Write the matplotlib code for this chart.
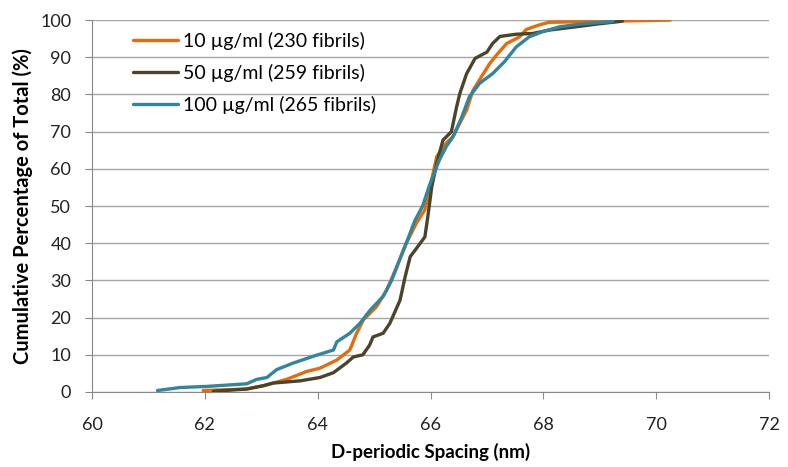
import matplotlib
matplotlib.use('Agg')
import matplotlib.pyplot as plt

# cumulative distributions (x in nm, y in %)
x_10 = [61.97, 62.74, 63.04, 63.45, 63.8, 64.04, 64.34, 64.57, 64.69, 64.81, 65.04, 65.22,
        65.4, 65.57, 65.75, 65.9, 66.02, 66.11, 66.28, 66.4, 66.52, 66.64, 66.75, 66.9,
        67.05, 67.17, 67.35, 67.58, 67.7, 67.93, 68.1, 70.25]
y_10 = [0.4, 0.8, 1.7, 3.4, 5.5, 6.4, 8.6, 11.3, 15.8, 19.4, 22.9, 27.3,
        33.6, 40.0, 45.4, 49.0, 57.0, 63.3, 67.0, 68.7, 72.3, 75.8, 81.0, 84.7,
        88.3, 90.6, 93.7, 95.5, 97.5, 98.7, 99.4, 100.0]

x_50 = [62.15, 62.74, 63.04, 63.21, 63.69, 64.04, 64.28, 64.51, 64.63, 64.8, 64.92, 64.98,
        65.16, 65.28, 65.46, 65.55, 65.64, 65.75, 65.9, 65.96, 66.02, 66.11, 66.22, 66.37,
        66.46, 66.52, 66.64, 66.79, 67.0, 67.1, 67.23, 67.52, 67.81, 68.1, 68.58, 68.99, 69.4]
y_50 = [0.2, 0.8, 1.7, 2.4, 3.0, 3.9, 5.2, 7.8, 9.4, 10.0, 12.6, 14.8,
        15.8, 18.5, 24.7, 31.0, 36.4, 38.6, 41.7, 48.0, 55.0, 61.5, 67.7, 70.0,
        76.5, 80.3, 85.6, 89.7, 91.4, 93.7, 95.6, 96.2, 96.4, 97.3, 98.2, 99.0, 99.7]

x_100 = [61.16, 61.56, 62.03, 62.74, 62.92, 63.1, 63.27, 63.57, 63.92, 64.28, 64.34, 64.57,
         64.75, 64.93, 65.16, 65.31, 65.45, 65.57, 65.72, 65.86, 65.98, 66.07, 66.16, 66.28,
         66.4, 66.54, 66.69, 66.87, 67.1, 67.31, 67.52, 67.75, 67.99, 68.29, 68.7, 69.23]
y_100 = [0.4, 1.2, 1.5, 2.2, 3.4, 3.9, 6.0, 7.8, 9.6, 11.3, 13.5, 15.8,
         18.5, 22.0, 25.7, 30.0, 35.5, 40.0, 46.0, 50.0, 55.5, 59.0, 62.5, 66.0,
         68.7, 73.4, 79.4, 83.0, 85.6, 88.8, 92.8, 95.5, 96.9, 98.2, 99.0, 99.6]

labels = ['10 \u00b5g/ml (230 fibrils)', '50 \u00b5g/ml (259 fibrils)', '100 \u00b5g/ml (265 fibrils)']
colors = ['#E46C0A', '#4A452A', '#31859C']

plt.rcParams['font.family'] = ['Lato', 'DejaVu Sans']

fig = plt.figure(figsize=(7.88, 4.67), dpi=100)
ax = fig.add_axes([0.1168, 0.1606, 0.8591, 0.7964])

for xs, ys, lab, c in zip([x_10, x_50, x_100], [y_10, y_50, y_100], labels, colors):
    ax.plot(xs, ys, color=c, lw=2.4, label=lab, solid_capstyle='round', zorder=3)

ax.set_xlim(60, 72)
ax.set_ylim(0, 100)
ax.set_xticks(range(60, 73, 2))
ax.set_yticks(range(0, 101, 10))
ax.yaxis.grid(True, color='#A6A6A6', lw=1)
ax.set_axisbelow(True)

for s in ['top', 'right']:
    ax.spines[s].set_visible(False)
for s in ['left', 'bottom']:
    ax.spines[s].set_color('#888888')
ax.tick_params(axis='both', colors='#888888', labelcolor='#222222', labelsize=13, length=5)
ax.tick_params(axis='x', pad=13)
ax.tick_params(axis='y', pad=10)

ax.set_xlabel('D-periodic Spacing (nm)', fontsize=13.5, fontweight='bold', labelpad=7)
ax.set_ylabel('Cumulative Percentage of Total (%)', fontsize=14.5, fontweight='bold', labelpad=5)

ax.legend(loc='upper left', bbox_to_anchor=(0.035, 1.015), frameon=False, fontsize=14,
          handlelength=2.3, handletextpad=0.25, labelspacing=0.72)

fig.savefig('out.png', dpi=100)
